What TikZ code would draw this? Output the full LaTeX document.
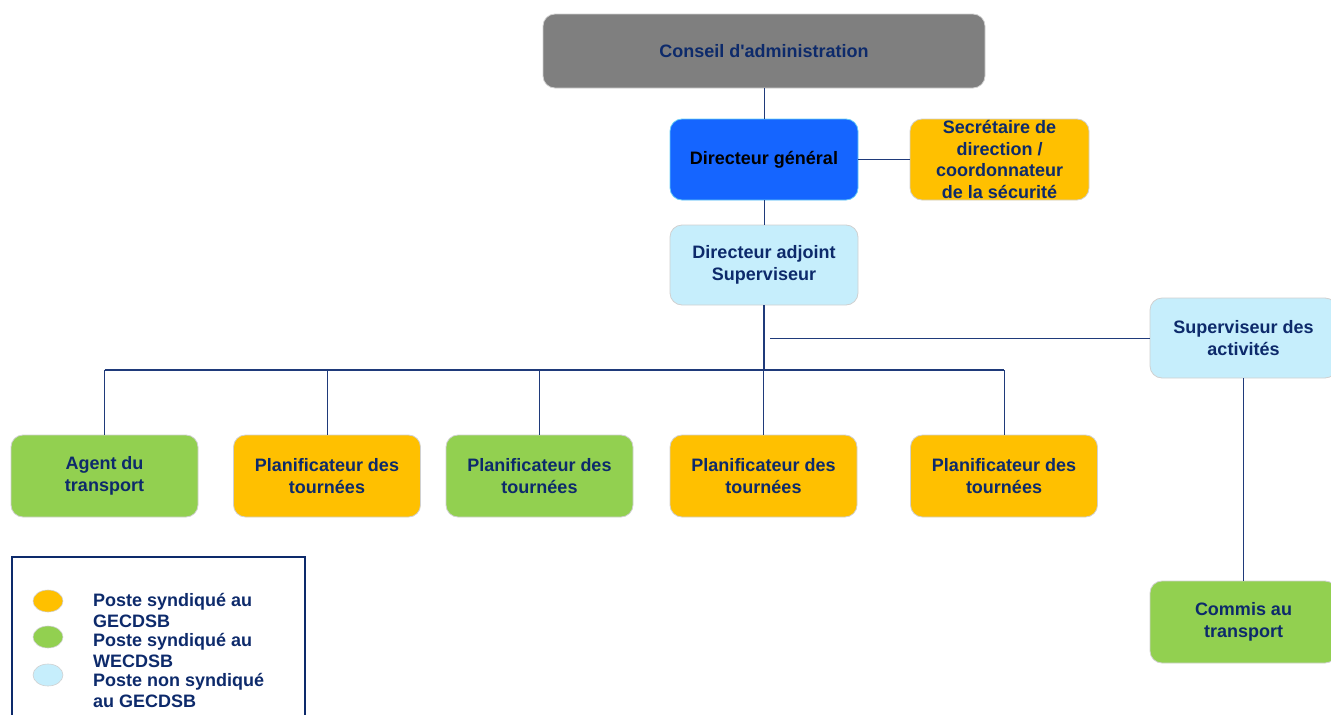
\documentclass[tikz,border=0pt]{standalone}
\usepackage{fontspec}
\setmainfont{Liberation Sans}
\usetikzlibrary{shapes.geometric}
\definecolor{navy}{HTML}{0D2A6B}
\definecolor{linec}{HTML}{1F3A7A}
\definecolor{gorange}{HTML}{FFC000}
\definecolor{ggreen}{HTML}{92D050}
\definecolor{glight}{HTML}{C6EEFC}
\definecolor{ggray}{HTML}{7F7F7F}
\definecolor{gblue}{HTML}{1565FF}
\definecolor{edgec}{HTML}{D0D0D0}
\tikzset{
  box/.style={rectangle, rounded corners=12pt, draw=edgec, line width=0.8pt,
    minimum width=187pt, minimum height=82pt, align=center, text=navy,
    font=\bfseries\fontsize{18}{21.5}\selectfont, inner sep=0pt},
  conn/.style={draw=linec, line width=0.9pt},
  trunk/.style={draw=linec, line width=1.6pt},
  legdot/.style={ellipse, draw=edgec, line width=0.6pt, minimum width=30pt, minimum height=22pt, inner sep=0pt},
  legtext/.style={anchor=north west, align=left, text=navy, inner sep=0pt,
    font=\bfseries\fontsize{18}{21}\selectfont}
}
\begin{document}
\begin{tikzpicture}[x=1pt,y=-1pt]
\useasboundingbox (0,0) rectangle (1331,715);
% boxes
\node[box, fill=ggray, minimum width=442pt, minimum height=74pt] (conseil) at (764,51) {Conseil d\textquotesingle administration};
\node[box, fill=gblue, draw=cyan!60!white, minimum width=188pt, minimum height=81pt, text=black] (dg) at (764,159.5) {Directeur général};
\node[box, fill=gorange, minimum width=179pt, minimum height=81pt] (sec) at (999.5,159.5) {Secrétaire de\\direction /\\coordonnateur\\de la sécurité};
\node[box, fill=glight, minimum width=188pt, minimum height=80pt] (da) at (764,265) {Directeur adjoint\\Superviseur};
\node[box, fill=glight, minimum width=187pt, minimum height=80pt] (sup) at (1243.5,338) {Superviseur des\\activités};
\node[box, fill=ggreen] (agent) at (104.5,476) {Agent du\\transport};
\node[box, fill=gorange] (p1) at (327,476) {Planificateur des\\tournées};
\node[box, fill=ggreen] (p2) at (539.5,476) {Planificateur des\\tournées};
\node[box, fill=gorange] (p3) at (763.5,476) {Planificateur des\\tournées};
\node[box, fill=gorange] (p4) at (1004,476) {Planificateur des\\tournées};
\node[box, fill=ggreen] (commis) at (1243.5,622) {Commis au\\transport};
% connectors
\coordinate (bus) at (0,370);
\coordinate (supL) at (770,338);
\draw[conn] (conseil.south) -- (dg.north);
\draw[conn] (dg.east) -- (sec.west);
\draw[conn] (dg.south) -- (da.north);
\draw[trunk] (da.south) -- (da.south |- bus);
\draw[trunk] (agent.north |- bus) -- (p4.north |- bus);
\foreach \n in {agent,p1,p2,p3,p4} \draw[conn] (\n.north |- bus) -- (\n.north);
\draw[conn] (supL) -- (sup.west);
\draw[conn] (sup.south) -- (commis.north);
% legend
\node[draw=navy, line width=1.8pt, rectangle, minimum width=293pt, minimum height=200pt, anchor=north west, inner sep=0pt] (legend) at (11,556) {};
\node[legdot, fill=gorange] (l1) at (48,601) {};
\node[legdot, fill=ggreen] (l2) at (48,637) {};
\node[legdot, fill=glight] (l3) at (48,675) {};
\node[legtext] (t1) at (93,593) {Poste syndiqué au\\GECDSB};
\node[legtext] (t2) at (93,633) {Poste syndiqué au\\WECDSB};
\node[legtext] (t3) at (93,673) {Poste non syndiqué\\au GECDSB};
\end{tikzpicture}
\end{document}
